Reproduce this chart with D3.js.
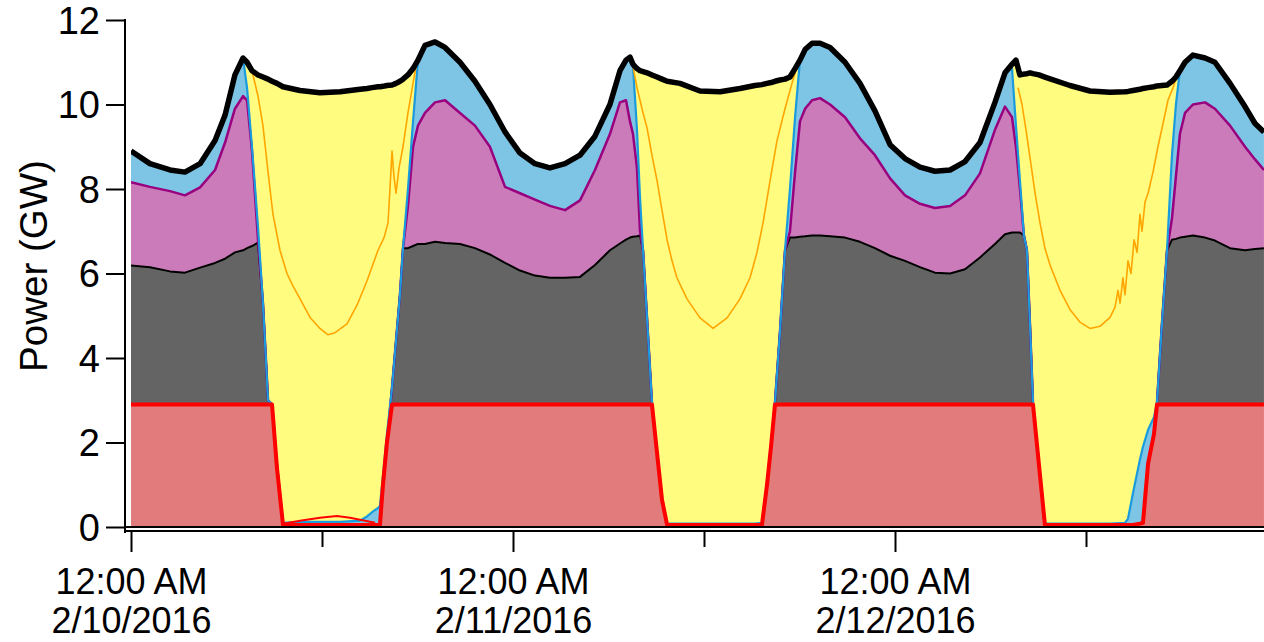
<!DOCTYPE html>
<html>
<head>
<meta charset="utf-8">
<script src="https://cdn.jsdelivr.net/npm/d3@7"></script>
<style>
  html, body { margin: 0; padding: 0; background: #fff; }
  svg { display: block; font-family: "Liberation Sans", Arial, sans-serif; }
</style>
</head>
<body>
<svg id="chart" width="1264" height="642"></svg>
<script>
// Hours after 12:00 AM 2/10/2016
const hours = [0.00,1.19,2.45,3.39,4.34,5.28,5.91,6.53,7.04,7.29,
  7.60,7.98,8.29,8.61,8.86,9.17,9.55,10.62,11.87,13.13,
  14.39,14.83,15.14,15.52,15.64,15.83,16.08,16.40,16.65,16.90,
  17.09,17.40,17.72,18.03,18.47,19.10,19.73,20.67,21.61,22.55,
  23.50,24.44,25.38,26.32,27.27,28.21,29.15,30.09,30.72,31.10,
  31.35,31.54,31.79,31.98,32.17,32.42,32.73,33.05,33.36,33.68,
  34.49,35.75,37.01,38.26,39.20,39.64,39.96,40.21,40.46,40.77,
  41.09,41.40,41.72,42.03,42.35,42.79,43.29,43.92,44.86,45.80,
  46.74,47.69,48.63,49.57,50.51,51.46,52.40,53.34,54.28,54.91,
  55.35,55.60,55.85,56.10,56.29,56.48,56.67,57.05,57.42,58.99,
  60.25,61.51,62.45,62.64,62.95,63.39,63.58,63.90,64.27,64.46,
  64.77,65.09,65.40,65.65,65.90,66.22,66.72,67.48,68.10,69.05,
  69.99,70.62,71.18];

// Cumulative tops of the stacked layers (GW)
const storageTop = [2.90,2.90,2.90,2.90,2.90,2.90,2.90,2.90,2.90,2.90,
  2.90,2.90,2.90,2.90,2.90,1.40,0.05,0.05,0.05,0.05,
  0.05,0.05,0.05,0.05,0.05,1.00,2.00,2.90,2.90,2.90,
  2.90,2.90,2.90,2.90,2.90,2.90,2.90,2.90,2.90,2.90,
  2.90,2.90,2.90,2.90,2.90,2.90,2.90,2.90,2.90,2.90,
  2.90,2.90,2.90,2.90,2.90,2.90,2.90,1.75,0.65,0.05,
  0.05,0.05,0.05,0.05,0.05,0.05,1.00,1.90,2.90,2.90,
  2.90,2.90,2.90,2.90,2.90,2.90,2.90,2.90,2.90,2.90,
  2.90,2.90,2.90,2.90,2.90,2.90,2.90,2.90,2.90,2.90,
  2.90,2.90,2.90,2.90,2.90,2.90,2.90,1.45,0.05,0.05,
  0.05,0.05,0.05,0.05,0.05,0.08,0.10,1.50,2.20,2.90,
  2.90,2.90,2.90,2.90,2.90,2.90,2.90,2.90,2.90,2.90,
  2.90,2.90,2.90];

const thermalTop = [6.19,6.15,6.05,6.02,6.14,6.25,6.35,6.50,6.55,6.60,
  6.65,6.73,5.30,3.00,2.90,1.45,0.05,0.05,0.05,0.05,
  0.05,0.05,0.05,0.05,0.05,1.00,2.00,3.30,4.40,5.50,
  6.60,6.60,6.65,6.70,6.70,6.75,6.72,6.70,6.60,6.45,
  6.25,6.07,5.95,5.90,5.90,5.92,6.20,6.55,6.71,6.80,
  6.85,6.87,6.88,6.90,6.55,4.95,2.94,1.75,0.65,0.05,
  0.05,0.05,0.05,0.05,0.05,0.05,1.00,1.90,2.95,4.60,
  6.55,6.85,6.85,6.87,6.88,6.90,6.90,6.88,6.85,6.75,
  6.60,6.42,6.30,6.15,6.02,6.00,6.10,6.38,6.70,6.93,
  6.97,6.97,6.97,6.90,6.55,4.80,2.94,1.45,0.05,0.05,
  0.05,0.05,0.05,0.05,0.05,0.08,0.10,1.50,2.20,2.95,
  4.80,6.55,6.80,6.82,6.85,6.87,6.90,6.85,6.78,6.60,
  6.55,6.58,6.60];

const importTop = [8.16,8.05,7.95,7.85,8.04,8.45,9.10,9.90,10.20,10.10,
  8.90,6.80,5.30,3.00,2.90,1.45,0.05,0.05,0.05,0.05,
  0.05,0.05,0.05,0.05,0.05,1.00,2.00,3.30,4.40,5.50,
  6.60,7.60,9.00,9.50,9.80,10.05,10.10,9.80,9.50,9.00,
  8.05,7.90,7.75,7.60,7.50,7.73,8.45,9.30,10.05,10.10,
  9.60,9.30,8.50,7.00,6.55,4.95,2.94,1.75,0.65,0.05,
  0.05,0.05,0.05,0.05,0.05,0.05,1.00,1.90,2.95,4.60,
  6.55,7.00,8.40,9.60,9.90,10.10,10.15,10.00,9.70,9.20,
  8.80,8.25,7.85,7.65,7.55,7.60,7.85,8.37,9.40,9.95,
  9.70,9.00,8.00,6.90,6.55,4.80,2.94,1.45,0.05,0.05,
  0.05,0.05,0.05,0.05,0.05,0.08,0.10,1.50,2.20,2.95,
  4.80,6.55,7.30,8.30,9.30,9.80,10.00,10.05,9.90,9.50,
  9.00,8.70,8.45];

const nonSolarTop = [8.90,8.60,8.45,8.40,8.60,9.15,9.75,10.70,11.10,10.40,
  9.00,7.10,5.30,3.00,2.90,1.50,0.10,0.12,0.12,0.12,
  0.15,0.25,0.35,0.45,0.50,1.20,2.20,3.30,4.40,5.50,
  6.60,8.00,9.60,11.05,11.40,11.48,11.35,11.00,10.55,10.00,
  9.35,8.85,8.60,8.50,8.60,8.80,9.25,10.00,10.80,11.05,
  11.12,10.90,9.40,7.80,6.55,4.95,2.94,1.80,0.70,0.08,
  0.08,0.08,0.08,0.08,0.08,0.10,1.05,1.95,2.95,4.60,
  6.55,8.00,9.70,11.05,11.30,11.45,11.45,11.35,11.00,10.50,
  9.85,9.05,8.72,8.52,8.42,8.45,8.65,9.10,10.05,10.75,
  10.86,9.50,8.20,6.90,6.55,4.80,2.94,1.50,0.08,0.08,
  0.08,0.08,0.10,0.20,0.80,1.60,1.90,2.30,2.60,2.95,
  4.80,6.55,8.80,10.00,10.80,11.00,11.17,11.10,11.00,10.50,
  9.95,9.55,9.35];

const totalLoad = [8.90,8.60,8.45,8.40,8.60,9.15,9.75,10.70,11.10,11.00,
  10.80,10.70,10.65,10.60,10.55,10.50,10.42,10.33,10.28,10.30,
  10.36,10.38,10.40,10.42,10.42,10.43,10.45,10.46,10.50,10.55,
  10.60,10.70,10.85,11.05,11.40,11.48,11.35,11.00,10.55,10.00,
  9.35,8.85,8.60,8.50,8.60,8.80,9.25,10.00,10.80,11.05,
  11.12,10.95,10.85,10.80,10.78,10.75,10.70,10.65,10.60,10.55,
  10.50,10.32,10.30,10.38,10.45,10.47,10.50,10.52,10.55,10.58,
  10.60,10.65,10.85,11.05,11.30,11.45,11.45,11.35,11.00,10.50,
  9.85,9.05,8.72,8.52,8.42,8.45,8.65,9.10,10.05,10.75,
  10.95,11.05,10.70,10.72,10.73,10.75,10.73,10.70,10.65,10.45,
  10.32,10.29,10.30,10.31,10.33,10.36,10.38,10.40,10.42,10.44,
  10.45,10.46,10.55,10.65,10.80,11.00,11.17,11.10,11.00,10.50,
  9.95,9.55,9.35];

// Daytime net-load trace (null separates the days)
const netLoadHours = [7.60,7.98,8.29,8.61,8.92,9.36,9.80,10.18,10.62,11.25,
  11.87,12.38,12.82,13.57,14.20,14.83,15.52,15.90,16.15,16.27,
  16.40,16.52,16.65,16.84,17.09,17.40,17.72,17.91,
  24.00,
  31.54,31.79,31.98,32.17,32.42,32.73,33.05,33.36,33.68,33.99,
  34.30,34.93,35.75,36.57,37.45,38.26,38.89,39.33,39.71,40.15,
  40.59,41.09,41.53,41.84,
  48.00,
  55.73,55.98,56.23,56.48,56.80,57.11,57.42,57.74,58.37,58.99,
  59.62,60.25,60.88,61.51,61.82,62.01,62.14,62.32,62.45,62.64,
  62.83,63.02,63.21,63.39,63.52,63.71,63.90,64.21,64.52,64.84,
  65.15,65.47,65.65];
const netLoad = [10.8,10.2,9.5,8.4,7.4,6.55,6.0,5.7,5.4,4.96,
  4.7,4.55,4.6,4.81,5.25,5.83,6.55,6.85,7.2,8.0,
  8.9,8.3,7.9,8.5,9.0,9.8,10.5,10.9,
  null,
  10.9,10.4,10.1,9.8,9.45,8.8,8.2,7.5,6.8,6.3,
  5.9,5.4,4.95,4.7,4.95,5.4,5.9,6.5,7.2,8.2,
  9.15,9.9,10.5,10.9,
  null,
  10.4,10.0,9.4,8.75,7.9,7.2,6.6,6.2,5.6,5.15,
  4.85,4.7,4.75,4.96,5.2,5.6,5.3,5.9,5.5,6.3,
  6.0,6.8,6.5,7.4,7.0,7.7,7.9,8.4,9.0,9.55,
  10.1,10.4,10.6];

// Midday storage charging trace on the first day
const chargeHours = [9.55, 10.62, 11.87, 12.94, 13.76, 14.70, 15.33];
const chargeGW = [0.08, 0.15, 0.22, 0.26, 0.22, 0.15, 0.10];

const yTicks = [0, 2, 4, 6, 8, 10, 12];
const dayTicks = [new Date(2016, 1, 10), new Date(2016, 1, 11), new Date(2016, 1, 12)];
const noonTicks = [new Date(2016, 1, 10, 12), new Date(2016, 1, 11, 12), new Date(2016, 1, 12, 12)];

const start = new Date(2016, 1, 10, 0, 0);
const toDate = h => new Date(start.getTime() + h * 3600e3);

const svg = d3.select("#chart");
const W = 1264;
const FONT = "'Liberation Sans', Arial, sans-serif";

const x = d3.scaleTime()
  .domain([start, new Date(2016, 1, 13)])
  .range([131, 1277]);
const y = d3.scaleLinear().domain([0, 12]).range([527, 20]);

const rows = hours.map((h, i) => ({
  t: toDate(h),
  storage: storageTop[i],
  thermal: thermalTop[i],
  imports: importTop[i],
  nonSolar: nonSolarTop[i],
  total: totalLoad[i]
}));
const netRows = netLoadHours.map((h, i) => ({ t: toDate(h), v: netLoad[i] }));
const chargeRows = chargeHours.map((h, i) => ({ t: toDate(h), v: chargeGW[i] }));

svg.append("defs").append("clipPath").attr("id", "plotClip")
  .append("rect").attr("x", 131).attr("y", 0).attr("width", W - 131).attr("height", 530);

const plot = svg.append("g").attr("clip-path", "url(#plotClip)");

const band = (lo, hi) => d3.area()
  .x(d => x(d.t))
  .y0(d => lo(d))
  .y1(d => hi(d));

const layers = [
  { lo: d => y(0), hi: d => y(d.storage), fill: "#E27B7B" },
  { lo: d => y(d.storage), hi: d => y(d.thermal), fill: "#646464" },
  { lo: d => y(d.thermal), hi: d => y(d.imports), fill: "#CC7BBA" },
  { lo: d => y(d.imports), hi: d => y(d.nonSolar), fill: "#7EC4E4" },
  { lo: d => y(d.nonSolar), hi: d => y(d.total), fill: "#FFFC80" }
];
layers.forEach(l => {
  plot.append("path").datum(rows)
    .attr("d", band(l.lo, l.hi))
    .attr("fill", l.fill);
});

const trace = acc => d3.line().x(d => x(d.t)).y(d => y(acc(d)));

const strokes = [
  { acc: d => d.thermal, color: "#000000", width: 2 },
  { acc: d => d.imports, color: "#98007F", width: 2.5 },
  { acc: d => d.nonSolar, color: "#1A9BDD", width: 2.2 },
  { acc: d => d.storage, color: "#FF0000", width: 4 }
];
strokes.forEach(s => {
  plot.append("path").datum(rows)
    .attr("d", trace(s.acc))
    .attr("fill", "none")
    .attr("stroke", s.color)
    .attr("stroke-width", s.width)
    .attr("stroke-linejoin", "round");
});

plot.append("path").datum(chargeRows)
  .attr("d", d3.line().x(d => x(d.t)).y(d => y(d.v)))
  .attr("fill", "none")
  .attr("stroke", "#FF0000")
  .attr("stroke-width", 2);

plot.append("path").datum(netRows)
  .attr("d", d3.line().defined(d => d.v != null).x(d => x(d.t)).y(d => y(d.v)))
  .attr("fill", "none")
  .attr("stroke", "#FFA500")
  .attr("stroke-width", 1.6)
  .attr("stroke-linejoin", "round");

plot.append("path").datum(rows)
  .attr("d", trace(d => d.total))
  .attr("fill", "none")
  .attr("stroke", "#000")
  .attr("stroke-width", 5.5)
  .attr("stroke-linejoin", "round");

// Axes
const axisColor = "#000";

// zero line along the bottom of the plot
svg.append("line")
  .attr("x1", 125).attr("x2", W)
  .attr("y1", y(0)).attr("y2", y(0))
  .attr("stroke", axisColor).attr("stroke-width", 2);

// y axis
const yAxis = svg.append("g")
  .attr("transform", "translate(125,0)")
  .call(d3.axisLeft(y).tickValues(yTicks).tickSize(19).tickPadding(6).tickSizeOuter(0));
yAxis.select(".domain").remove();
yAxis.selectAll(".tick line").attr("stroke", axisColor).attr("stroke-width", 2);
yAxis.selectAll(".tick text")
  .attr("font-size", 38).attr("fill", "#000")
  .attr("font-family", FONT)
  .attr("dy", "0.35em");
svg.append("line")
  .attr("x1", 125).attr("x2", 125)
  .attr("y1", y(12) - 1).attr("y2", y(0) + 6)
  .attr("stroke", axisColor).attr("stroke-width", 2);

// x axis (offset slightly below the zero line)
const xAxisY = 531;
svg.append("line")
  .attr("x1", 125).attr("x2", W)
  .attr("y1", xAxisY).attr("y2", xAxisY)
  .attr("stroke", axisColor).attr("stroke-width", 2);

const fmtTime = d3.timeFormat("%-I:%M %p");
const fmtDate = d3.timeFormat("%-m/%-d/%Y");

const xMajor = svg.append("g")
  .attr("transform", `translate(0,${xAxisY})`)
  .call(d3.axisBottom(x).tickValues(dayTicks).tickSize(21).tickPadding(16).tickFormat(fmtTime));
xMajor.select(".domain").remove();
xMajor.selectAll(".tick line").attr("stroke", axisColor).attr("stroke-width", 2);
xMajor.selectAll(".tick text")
  .attr("font-size", 36).attr("fill", "#000")
  .attr("font-family", FONT)
  .each(function(d) {
    d3.select(this).append("tspan")
      .attr("x", 0).attr("dy", "1.1em")
      .text(fmtDate(d));
  });

const xMinor = svg.append("g")
  .attr("transform", `translate(0,${xAxisY})`)
  .call(d3.axisBottom(x).tickValues(noonTicks).tickSize(16).tickFormat(() => ""));
xMinor.select(".domain").remove();
xMinor.selectAll(".tick line").attr("stroke", axisColor).attr("stroke-width", 2);

// y axis title
svg.append("text")
  .attr("transform", `translate(47,266) rotate(-90)`)
  .attr("text-anchor", "middle")
  .attr("font-size", 38.5)
  .attr("font-family", FONT)
  .attr("fill", "#000")
  .text("Power (GW)");
</script>
</body>
</html>
